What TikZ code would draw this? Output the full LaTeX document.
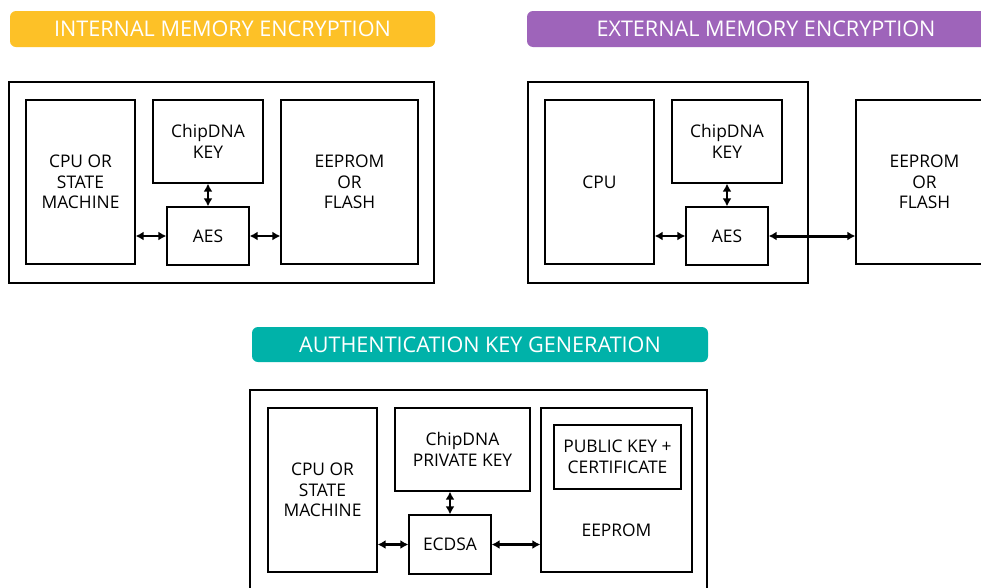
\documentclass[tikz,border=0pt]{standalone}
\usepackage{fontspec}
\setmainfont{Open Sans}
\usepackage{tikz}
\usetikzlibrary{arrows.meta}
\tikzstyle{blk} = [draw, line width=1.3pt, inner sep=0pt, align=center, font=\fontsize{17.4}{20.5}\selectfont]
\tikzstyle{frame} = [draw, line width=1.5pt, inner sep=0pt]
\tikzstyle{txt} = [inner sep=0pt, align=center, font=\fontsize{17.4}{20.5}\selectfont]
\tikzstyle{banner} = [rounded corners=6pt, inner sep=0pt, text=white, font=\fontsize{21.6}{24}\selectfont]
\tikzstyle{link} = [line width=2.5pt, {Latex[length=8pt,width=9pt]}-{Latex[length=8pt,width=9pt]}]
\definecolor{yel}{HTML}{FDC127}
\definecolor{pur}{HTML}{9E64BA}
\definecolor{tea}{HTML}{00B2A9}

\begin{document}
\begin{tikzpicture}[x=1pt,y=-1pt]
			\clip (0,0) rectangle (981,587);
			\fill[white] (0,0) rectangle (981,587);
			% internal memory encryption
			\node[banner, fill=yel, minimum width=425pt, minimum height=36pt] (titleA) at (222.5,29) {INTERNAL MEMORY ENCRYPTION};
			\node[frame, minimum width=425pt, minimum height=201pt] (boxA) at (221.5,182.5) {};
			\node[blk, minimum width=109pt, minimum height=164pt] (cpuA) at (80.5,182) {CPU OR\\STATE\\MACHINE};
			\node[blk, minimum width=110pt, minimum height=83pt] (keyA) at (208,141.5) {ChipDNA\\KEY};
			\node[blk, minimum width=82pt, minimum height=58pt] (aesA) at (208,236) {AES};
			\node[blk, minimum width=137pt, minimum height=164pt] (memA) at (349.5,182) {EEPROM\\OR\\FLASH};
			\draw[link] (cpuA.east |- aesA) -- (aesA.west);
			\draw[link] (aesA.east) -- (memA.west |- aesA);
			\draw[link] (keyA.south) -- (aesA.north);
			% external memory encryption
			\node[banner, fill=pur, minimum width=478pt, minimum height=36pt] (titleB) at (766,29) {EXTERNAL MEMORY ENCRYPTION};
			\node[frame, minimum width=280pt, minimum height=201pt] (boxB) at (668,182.5) {};
			\node[blk, minimum width=109pt, minimum height=164pt] (cpuB) at (599.5,182) {CPU};
			\node[blk, minimum width=110pt, minimum height=83pt] (keyB) at (727,141.5) {ChipDNA\\KEY};
			\node[blk, minimum width=82pt, minimum height=58pt] (aesB) at (727,236) {AES};
			\node[blk, minimum width=137pt, minimum height=164pt] (memB) at (924.5,182) {EEPROM\\OR\\FLASH};
			\draw[link] (cpuB.east |- aesB) -- (aesB.west);
			\draw[link, line width=3pt] (aesB.east) -- (memB.west |- aesB);
			\draw[link] (keyB.south) -- (aesB.north);
			% authentication key generation
			\node[banner, fill=tea, minimum width=456pt, minimum height=35pt] (titleC) at (480,344.5) {AUTHENTICATION KEY GENERATION};
			\node[frame, minimum width=457pt, minimum height=201pt] (boxC) at (478.5,490.5) {};
			\node[blk, minimum width=109pt, minimum height=164pt] (cpuC) at (322.5,490) {CPU OR\\STATE\\MACHINE};
			\node[blk, minimum width=135pt, minimum height=83pt] (keyC) at (462.5,449.5) {ChipDNA\\PRIVATE KEY};
			\node[blk, minimum width=82pt, minimum height=59pt] (ecdsa) at (450,544.5) {ECDSA};
			\node[blk, minimum width=151pt, minimum height=164pt] (memC) at (616.5,490) {};
			\node[txt] (memCtext) at (616.5,530) {EEPROM};
			\node[blk, minimum width=127pt, minimum height=64pt] (pubC) at (617.5,457) {PUBLIC KEY +\\CERTIFICATE};
			\draw[link] (cpuC.east |- ecdsa) -- (ecdsa.west);
			\draw[link] (ecdsa.east) -- (memC.west |- ecdsa);
			\draw[link] (ecdsa.north |- keyC.south) -- (ecdsa.north);
		\end{tikzpicture}
\end{document}
